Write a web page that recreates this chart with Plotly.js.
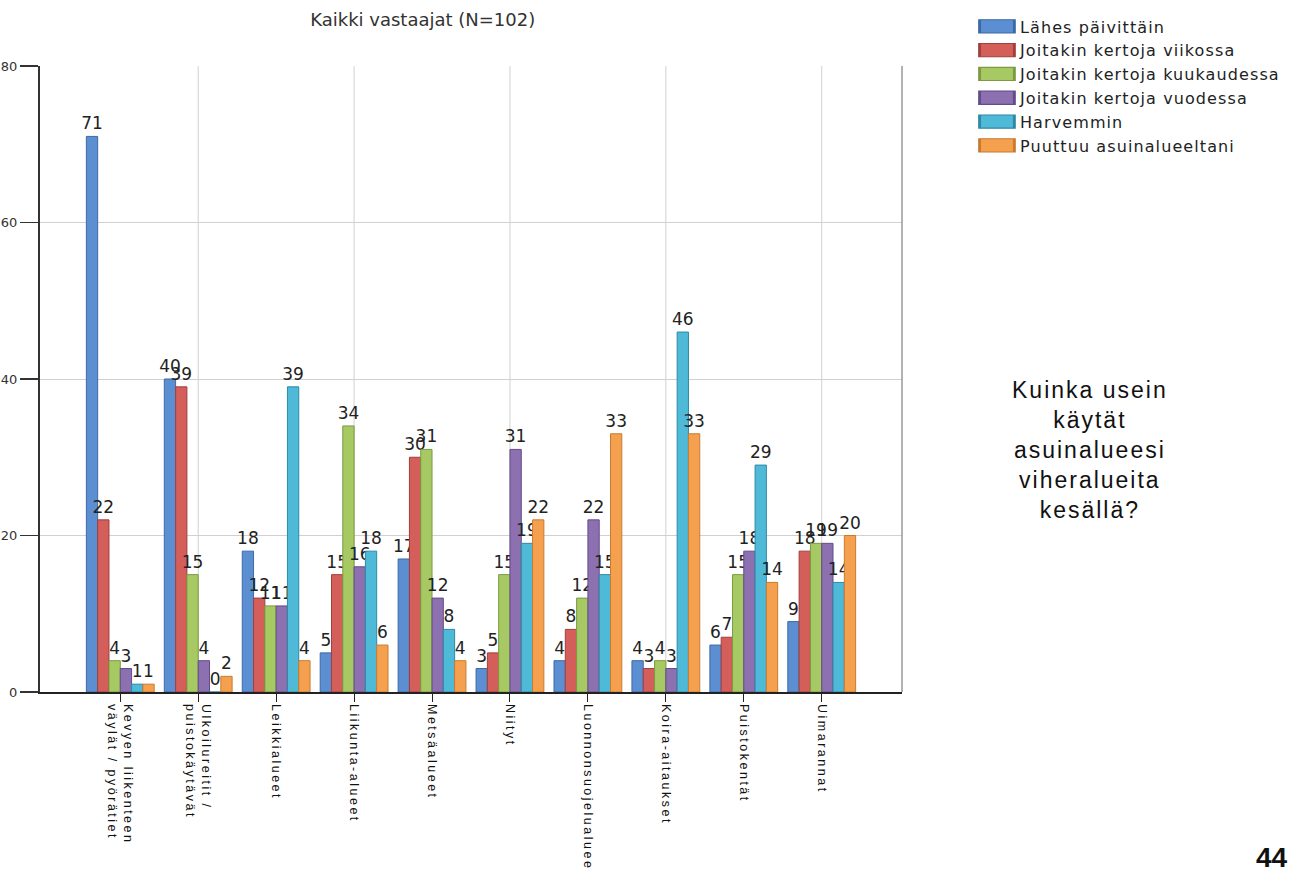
<!DOCTYPE html>
<html><head><meta charset="utf-8">
<script src="https://cdn.plot.ly/plotly-3.0.1.min.js"></script>
<style>
html,body{margin:0;padding:0;background:#fff}
#chart{width:1305px;height:869px}
.xaxislayer-above .xtick text{letter-spacing:2.5px}
.legend .legendtext{letter-spacing:1.1px}
</style></head><body><div id="chart"></div>
<script>
const categories = ['Kevyen liikenteen<br>väylät / pyörätiet','Ulkoilureitit /<br>puistokäytävät','Leikkialueet','Liikunta-alueet','Metsäalueet','Niityt','Luonnonsuojelualueet','Koira-aitaukset','Puistokentät','Uimarannat'];
const seriesNames = ['Lähes päivittäin','Joitakin kertoja viikossa','Joitakin kertoja kuukaudessa','Joitakin kertoja vuodessa','Harvemmin','Puuttuu asuinalueeltani'];
const lahesPaivittain = [71,40,18,5,17,3,4,4,6,9];
const viikossa = [22,39,12,15,30,5,8,3,7,18];
const kuukaudessa = [4,15,11,34,31,15,12,4,15,19];
const vuodessa = [3,4,11,16,12,31,22,3,18,19];
const harvemmin = [1,0,39,18,8,19,15,46,29,14];
const puuttuu = [1,2,4,6,4,22,33,33,14,20];
const yTicks = [0,20,40,60,80];
const titleText = 'Kaikki vastaajat (N=102)';
const sideText = 'Kuinka usein<br>käytät<br>asuinalueesi<br>viheralueita<br>kesällä?';
const pageNumber = '44';

const values = [lahesPaivittain, viikossa, kuukaudessa, vuodessa, harvemmin, puuttuu];
const fillColors = ['#5b8fd2','#d35e5a','#a6c964','#8c70b0','#4fb9d8','#f5a04e'];
const lineColors = ['#3c69a6','#a13f3c','#7b9a42','#634c8a','#2e89a5','#c87b30'];

const traces = seriesNames.map((n,i)=>({
  type:'bar', name:n, x:categories, y:values[i],
  text: values[i].map(String), textposition:'outside', cliponaxis:false, constraintext:'none',
  textfont:{family:'DejaVu Sans', size:17, color:'#222'},
  marker:{color:fillColors[i], line:{color:lineColors[i], width:1}},
  hoverinfo:'skip'
}));

const gridShapes = categories.filter((c,i)=>i%2===1).map(c=>({
  type:'line', xref:'x', yref:'paper', x0:c, x1:c, y0:0, y1:1, layer:'below',
  line:{color:'#d0d0d0', width:1}
}));
const borderShape = {type:'line', xref:'paper', yref:'paper', x0:1, x1:1, y0:0, y1:1, line:{color:'#999', width:1.5}};

const layout = {
  width:1305, height:869, margin:{l:40, r:403, t:66, b:177, autoexpand:false},
  paper_bgcolor:'#fff', plot_bgcolor:'#fff',
  barmode:'group', bargap:0.13, bargroupgap:0,
  showlegend:true,
  title:{text:titleText, font:{family:'DejaVu Sans', size:18, color:'#333'}, x:0.444, xref:'paper', xanchor:'center', y:0.977, yref:'container', yanchor:'middle'},
  xaxis:{type:'category', range:[-1.03,10.03], showgrid:false, showline:true, linecolor:'#222', linewidth:1.5,
    ticks:'outside', ticklen:8, tickcolor:'#222', tickangle:90,
    tickfont:{family:'Liberation Sans', size:12.5, color:'#111'}, automargin:false, fixedrange:true},
  yaxis:{range:[0,80], tickmode:'array', tickvals:yTicks, showgrid:true, gridcolor:'#d0d0d0', gridwidth:1,
    showline:true, linecolor:'#333', linewidth:2, ticks:'outside', ticklen:18, tickcolor:'#333', tickwidth:1.5,
    tickfont:{family:'DejaVu Sans', size:13, color:'#333'}, zeroline:false, automargin:false, fixedrange:true},
  legend:{x:1.0835, xanchor:'left', y:1.0903, yanchor:'top', font:{family:'DejaVu Sans', size:16, color:'#222'},
    bgcolor:'rgba(0,0,0,0)', tracegroupgap:0, itemwidth:36, traceorder:'normal'},
  shapes: gridShapes.concat([borderShape]),
  annotations:[
    {text:sideText, xref:'paper', yref:'paper', x:1.218, y:0.3866, xanchor:'center', yanchor:'middle', showarrow:false, align:'center',
     font:{family:'Liberation Sans', size:23, color:'#111'}},
    {text:'<b>'+pageNumber+'</b>', xref:'paper', yref:'paper', x:1.429, y:-0.236, xanchor:'center', yanchor:'top', showarrow:false,
     font:{family:'Liberation Sans', size:28, color:'#111'}}
  ]
};

Plotly.newPlot('chart', traces, layout, {displayModeBar:false, staticPlot:true}).then(gd=>{
  gd.querySelectorAll('.annotation-text').forEach(t=>{
    if (t.textContent.indexOf('Kuinka')===0) t.style.letterSpacing='2px';
  });
  gd.querySelectorAll('.legend .legendpoints path').forEach(p=>{
    const t = p.getAttribute('transform') || '';
    p.setAttribute('transform', t + ' scale(2.9,1.1)');
  });
  gd.querySelectorAll('.legend [clip-path]').forEach(el=>el.removeAttribute('clip-path'));
  const lg = gd.querySelector('.legend');
  if (lg && lg.hasAttribute('clip-path')) lg.removeAttribute('clip-path');
});
</script></body></html>
